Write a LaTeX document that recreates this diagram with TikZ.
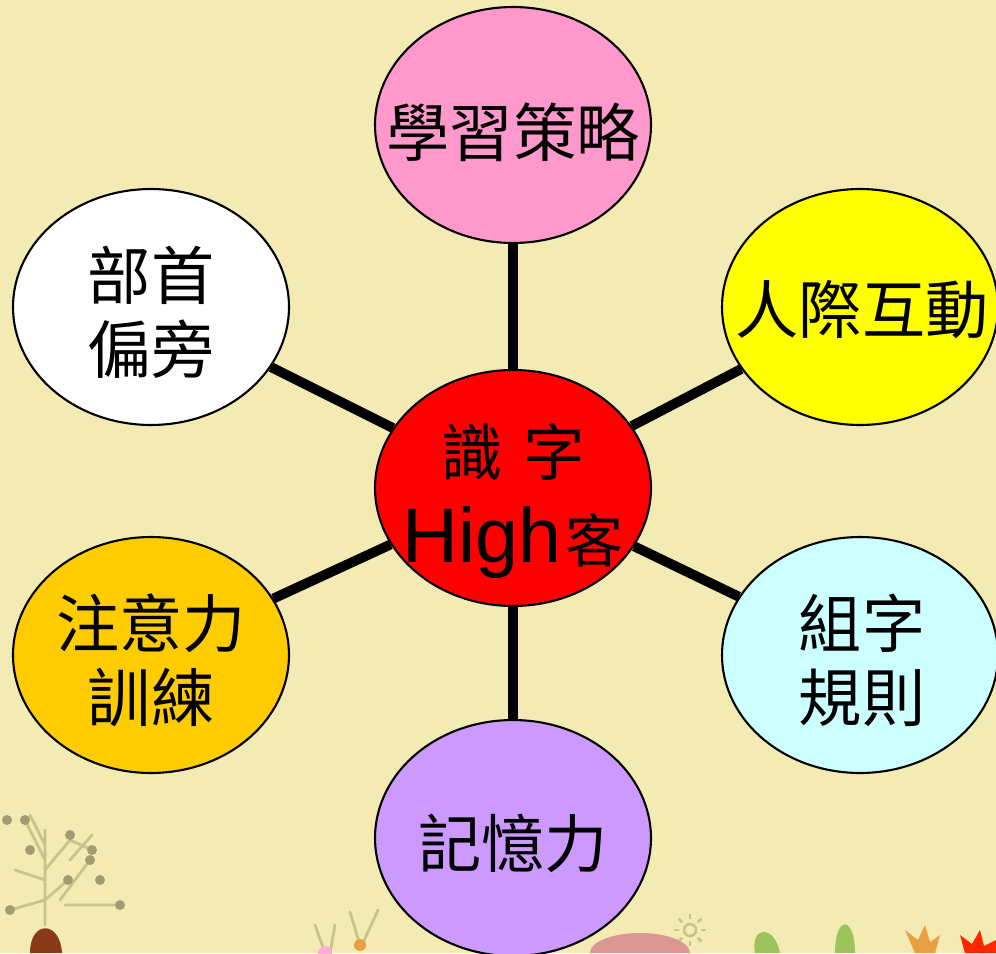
\documentclass[tikz,border=0pt]{standalone}
\usepackage{fontspec}
\setmainfont{Liberation Sans}
\newfontfamily\cjk{Noto Sans CJK TC}
\usetikzlibrary{shapes.geometric}
\definecolor{cream}{HTML}{F3EAB4}
\definecolor{bubblepink}{HTML}{FF99CC}
\definecolor{bubbleyellow}{HTML}{FFFF00}
\definecolor{bubblered}{HTML}{FF0000}
\definecolor{bubbleorange}{HTML}{FFCC00}
\definecolor{bubblecyan}{HTML}{CCFFFF}
\definecolor{bubblelilac}{HTML}{CC99FF}
\definecolor{stem}{HTML}{C9C48A}
\definecolor{potbrown}{HTML}{8A3A16}
\definecolor{leafgreen}{HTML}{9CC45A}
\definecolor{petal}{HTML}{E8A040}
\tikzset{
  bubble/.style={ellipse,draw=black,line width=1.2pt,minimum width=5.52cm,minimum height=4.72cm,inner sep=0pt},
  word/.style={font=\cjk\fontsize{36}{42}\selectfont,align=center,inner sep=0pt},
  spoke/.style={line width=5.6pt},
  twig/.style={stem,line width=1.6pt,line cap=round}
}
\begin{document}
\begin{tikzpicture}[x=0.02cm,y=-0.02cm]
\fill[cream] (0,0) rectangle (996,953);
\useasboundingbox (0,0) rectangle (996,953);

% little plants along the bottom edge
\draw[twig] (45,925) -- (45,830) (45,860) -- (25,820) (45,870) -- (70,840) -- (92,850)
  (45,845) -- (30,815) (45,880) -- (15,870) (45,900) -- (10,910) (60,900) -- (90,860)
  (65,905) -- (120,905) -- (122,905) (70,860) -- (92,835) (45,900) -- (68,880);
\foreach \p in {(7,820),(30,850),(70,835),(92,850),(25,820),(90,860),(120,905),(10,910),(68,880),(100,880)}
  \fill[stem!80!black] \p circle (5);
\fill[potbrown] (30,953) .. controls (30,920) and (60,920) .. (62,953) -- cycle;
\draw[twig] (325,953) -- (315,925) (330,953) -- (335,925) (360,945) -- (350,912) (362,945) -- (378,910);
\fill[petal] (360,945) circle (6);
\fill[bubblepink!80] (325,953) circle (7);
\draw[stem,line width=1.5pt] (690,930) circle (6);
\foreach \a in {0,45,...,315}
  \draw[stem,line width=1.5pt] (690,930) ++(\a:11) -- ++(\a:5);
\fill[leafgreen] (755,953) .. controls (750,925) and (775,925) .. (780,953) -- cycle;
\fill[leafgreen] (835,953) .. controls (835,915) and (855,915) .. (855,953) -- cycle;
\fill[petal] (915,953) -- (905,930) -- (918,940) -- (925,925) -- (930,942) -- (940,935) -- (935,953) -- cycle;
\fill[red!70!orange] (965,953) -- (960,935) -- (972,944) -- (980,930) -- (984,946) -- (996,940) -- (996,953) -- cycle;
\fill[potbrown!40!bubblepink!70!cream] (590,953) arc (180:360:50 and 20) -- cycle;

% the six topics round the centre
\node[bubble,fill=bubblered] (core) at (513,488) {};
\node[bubble,fill=bubblepink] (strategy) at (513,125) {};
\node[bubble,fill=white] (radical) at (151,307) {};
\node[bubble,fill=bubbleyellow] (social) at (860,307) {};
\node[bubble,fill=bubbleorange] (focus) at (151,655) {};
\node[bubble,fill=bubblecyan] (rules) at (860,655) {};
\node[bubble,fill=bubblelilac] (memory) at (513,838) {};

\foreach \n in {strategy,radical,social,focus,rules,memory}
  \draw[spoke] (core) -- (\n);

\node[word] at (513,132) {學習策略};
\node[word] at (151,312) {部首\\偏旁};
\node[word] at (862,310) {人際互動};
\node[word] at (151,660) {注意力\\訓練};
\node[word] at (862,660) {組字\\規則};
\node[word] at (513,843) {記憶力};
\node[word,font=\cjk\fontsize{35}{40}\selectfont] at (513,452) {識\,\,字};
\node[inner sep=0pt,anchor=base] at (513,562) {\fontsize{44}{50}\selectfont High\kern2pt{\cjk\fontsize{33}{40}\selectfont 客}};
\end{tikzpicture}
\end{document}
